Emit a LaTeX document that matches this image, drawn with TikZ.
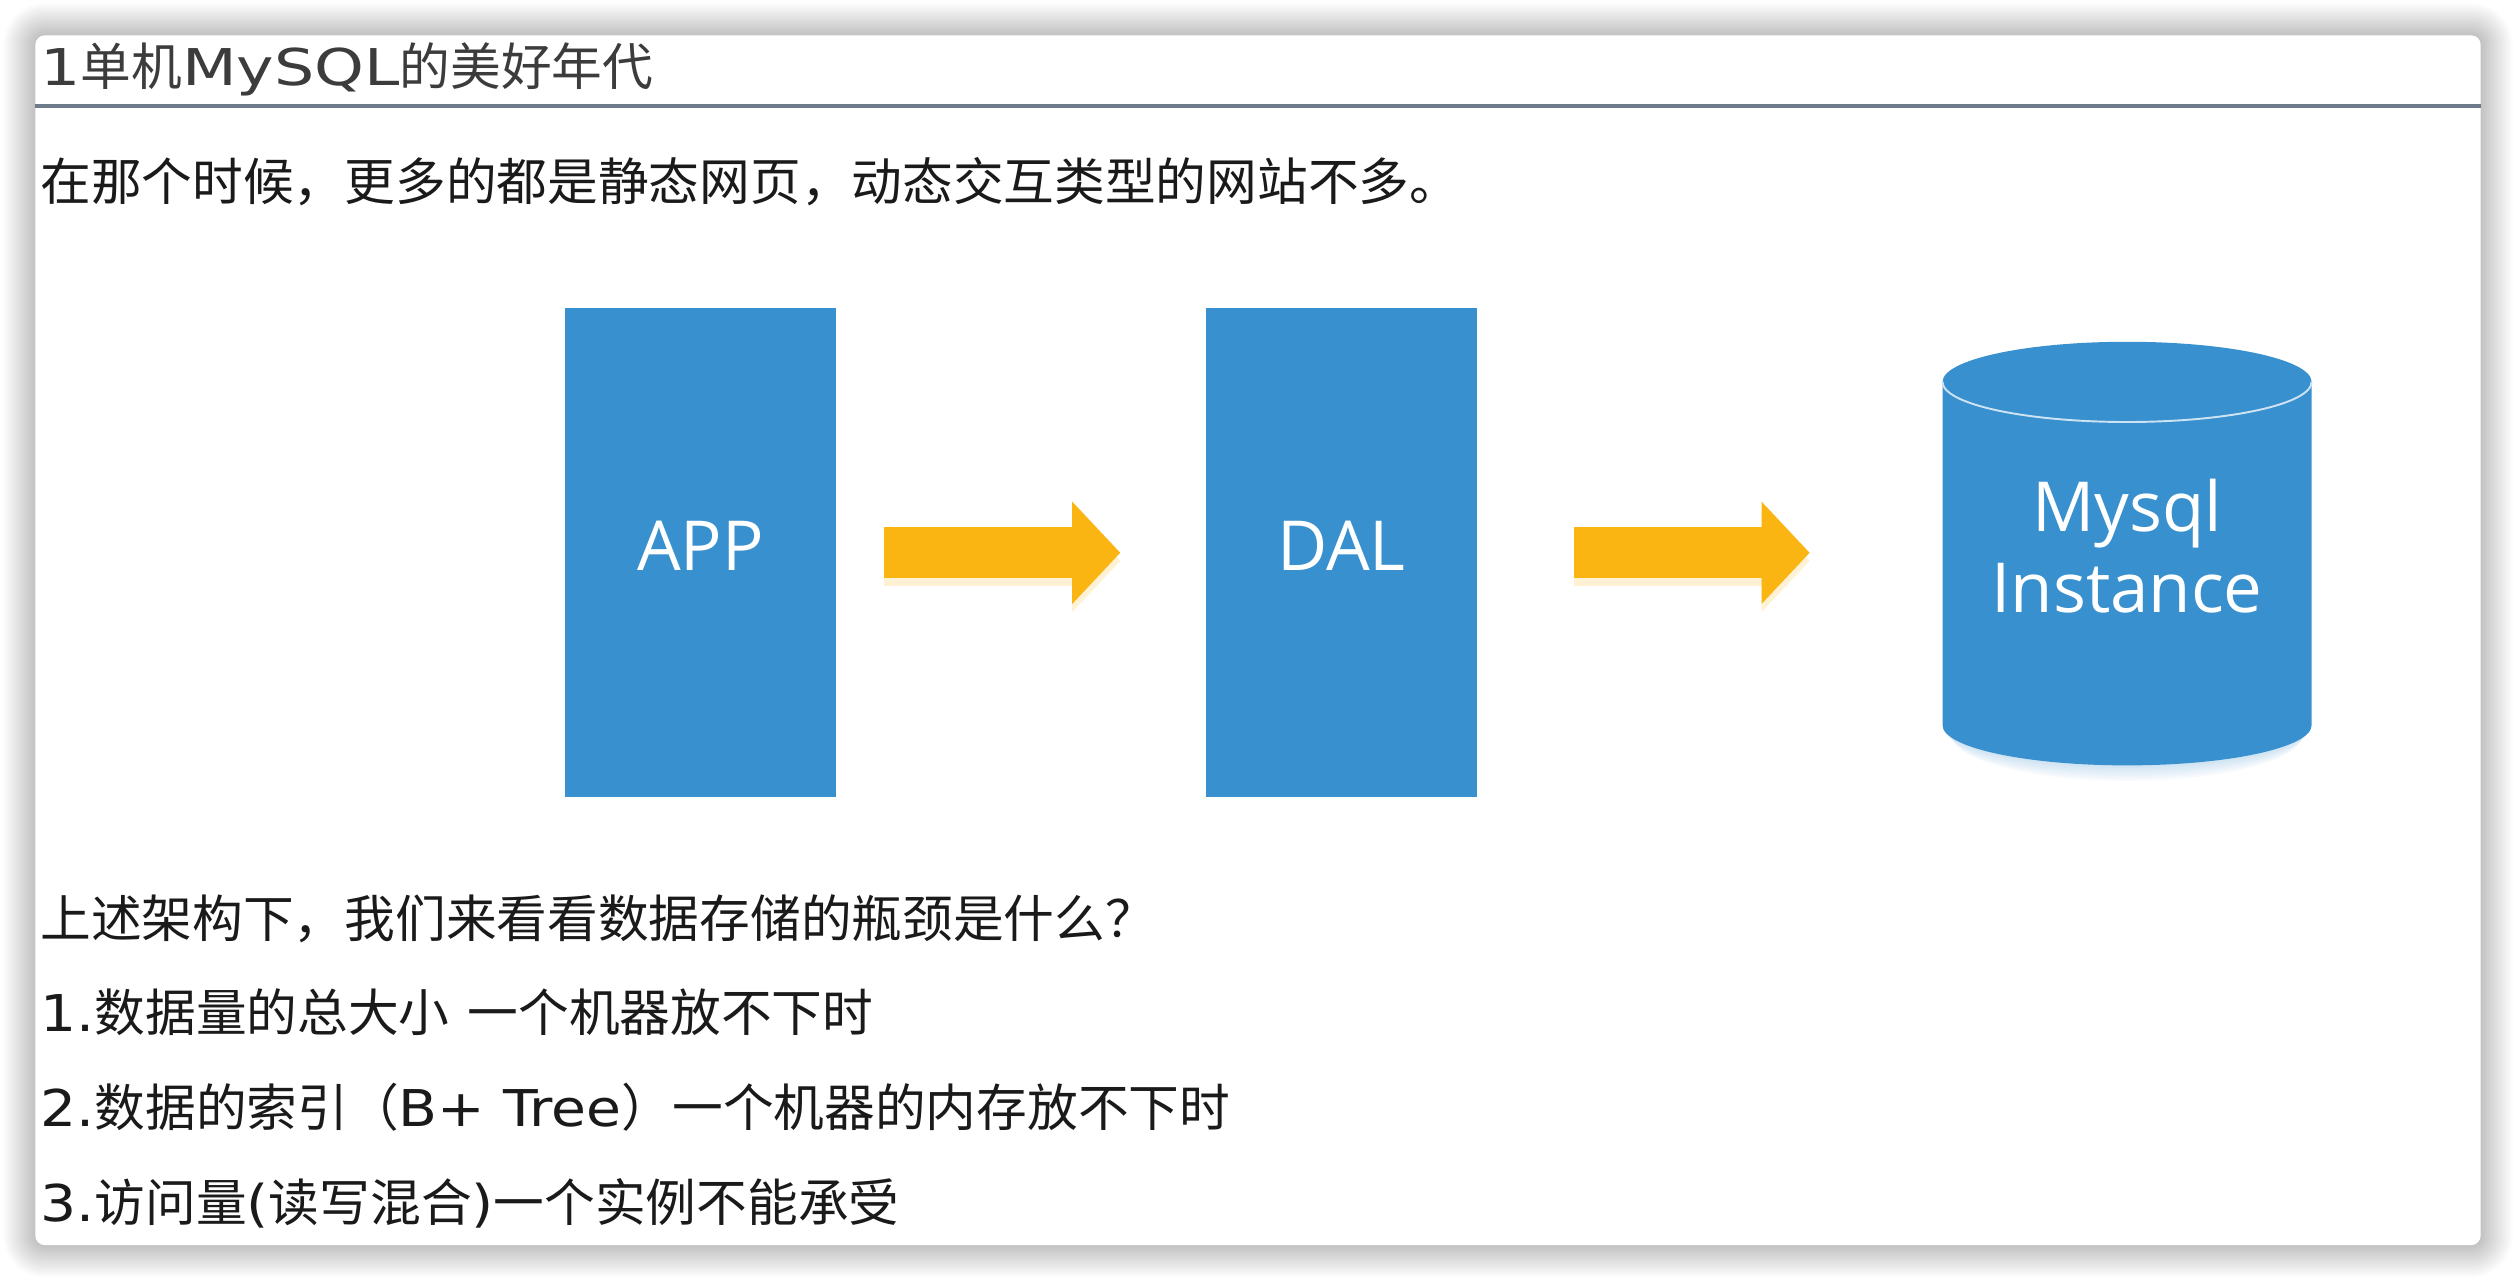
\documentclass[tikz,border=0pt]{standalone}
\usepackage{fontspec}
\setmainfont{DejaVu Sans}
\newfontfamily\cjk{Noto Sans CJK SC}
\newfontfamily\lat[FakeStretch=1.12]{DejaVu Sans}
\newfontfamily\tlat[FakeStretch=1.25]{DejaVu Sans}
\newfontfamily\boxfont{Open Sans}
\usepackage{tikz}
\usetikzlibrary{arrows.meta, positioning}
\definecolor{boxblue}{HTML}{3890CE}
\definecolor{arrowyellow}{HTML}{FAB512}
\definecolor{rulegray}{HTML}{6E7B8B}
\definecolor{titlegray}{HTML}{3C3C3C}
\definecolor{bodyblack}{HTML}{1A1A1A}

\begin{document}
\begin{tikzpicture}[x=1pt,y=-1pt,
    tier/.style={fill=boxblue, minimum width=169pt, minimum height=305pt, inner sep=0pt,
        text=white, text height=30.7pt, text depth=8.3pt, font=\boxfont\fontsize{43}{51}\selectfont},
    flow/.style={arrowyellow, line width=32pt, -{Triangle[length=30pt,width=62pt]}},
    textline/.style={anchor=west, inner sep=0pt, text height=27.8pt, text depth=3.8pt,
        text=bodyblack, font=\cjk\fontsize{31.6}{38}\selectfont}]
    \useasboundingbox (0,0) rectangle (1568,799);
    \fill[white] (0,0) rectangle (1568,799);
    \foreach \i in {1,...,20}
        \fill[black, opacity=0.011, rounded corners={(6+\i)*1pt}] (22-\i,22-\i) rectangle (1546+\i,776+\i);
    \fill[white, rounded corners=6pt] (22,22) rectangle (1546,776);
    \draw[rulegray, line width=2.5pt] (22,66) -- (1546,66);

    \node[textline, text=titlegray] (title) at (25,41.5) {{\tlat 1}单机{\tlat MySQL}的美好年代};
    \node[textline] (intro) at (25,113) {在那个时候，更多的都是静态网页，动态交互类型的网站不多。};

    \node[tier] (app) at (436.5,344.5) {APP};
    \node[tier, right=230pt of app] (dal) {DAL};

    \foreach \j in {1,...,6}
        \fill[boxblue, opacity=0.04] (1325.6,452+\j) ellipse [x radius=115-\j, y radius=25+0.6*\j];
    \fill[boxblue] (1210.6,238) -- (1210.6,452) arc[start angle=180, end angle=0, x radius=115, y radius=25]
        -- (1440.6,238) arc[start angle=0, end angle=-180, x radius=115, y radius=25] -- cycle;
    \draw[white!75!boxblue, line width=1.2pt] (1210.6,238) arc[start angle=180, end angle=0, x radius=115, y radius=25];
    \node[inner sep=0pt, minimum width=230pt, align=center, text=white,
        font=\boxfont\fontsize{43}{51}\selectfont] (db) at (1325.6,340.3) {Mysql\\Instance};

    \draw[flow, opacity=0.18, transform canvas={yshift=-5pt}] ([xshift=30pt]app.east) -- ([xshift=-53pt]dal.west);
    \draw[flow] ([xshift=30pt]app.east) -- ([xshift=-53pt]dal.west);
    \draw[flow, opacity=0.18, transform canvas={yshift=-5pt}] ([xshift=60.5pt]dal.east) -- ([xshift=-82.6pt]db.west |- dal.east);
    \draw[flow] ([xshift=60.5pt]dal.east) -- ([xshift=-82.6pt]db.west |- dal.east);

    \node[textline] (question) at (25,572) {上述架构下，我们来看看数据存储的瓶颈是什么？};
    \node[textline] (point1) at (25,631) {{\lat 1.}数据量的总大小{\lat\ }一个机器放不下时};
    \node[textline] (point2) at (25,690) {{\lat 2.}数据的索引（{\lat B+ Tree}）一个机器的内存放不下时};
    \node[textline] (point3) at (25,749) {{\lat 3.}访问量{\lat (}读写混合{\lat )}一个实例不能承受};
\end{tikzpicture}
\end{document}
